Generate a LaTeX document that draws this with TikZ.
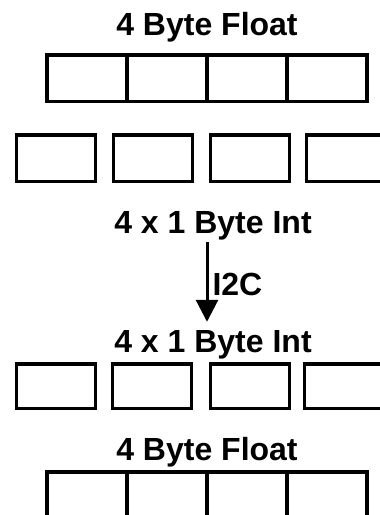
\documentclass[tikz,border=0pt]{standalone}
\usepackage{fontspec}
\setmainfont{Liberation Sans}
\usetikzlibrary{arrows.meta,positioning}

\begin{document}
\begin{tikzpicture}[
    x=1pt, y=-1pt,
    every node/.style={font=\fontsize{32}{36}\selectfont\bfseries},
    cell/.style={rectangle, draw=black, line width=3.5pt, minimum width=80pt, minimum height=46.5pt, inner sep=0pt},
    bytecell/.style={cell, minimum width=79pt},
    title/.style={inner sep=0pt, anchor=base},
    arrow/.style={-{Triangle[width=22pt,length=22pt]}, line width=3pt}
]
    \useasboundingbox (0,0) rectangle (380,515);
    \clip (0,0) rectangle (380,515);

    % float on top
    \node[title] (fltA) at (207,35) {4 Byte Float};
    \foreach \i/\x in {1/87,2/167,3/247,4/327}
        \node[cell] (fa\i) at (\x,78) {};

    % split into bytes
    \foreach \i/\x in {1/56,2/153,3/250,4/346}
        \node[bytecell] (ba\i) at (\x,158) {};
    \node[title] (intA) at (213,233) {4 x 1 Byte Int};

    \node[title] (intB) at (213,352) {4 x 1 Byte Int};
    \draw[arrow, shorten <=2pt, shorten >=8pt] ([xshift=-6pt]intA.south) -- ([xshift=-6pt]intB.north)
        node[midway, right=4pt, inner sep=0pt] (i2c) {I2C};

    % bytes back to float
    \foreach \i/\x in {1/56,2/152,3/250,4/344}
        \node[bytecell, minimum height=44.5pt] (bb\i) at (\x,386) {};
    \node[title] (fltB) at (207,460) {4 Byte Float};
    \foreach \i/\x in {1/87,2/167,3/247,4/327}
        \node[cell] (fb\i) at (\x,495) {};
\end{tikzpicture}
\end{document}
